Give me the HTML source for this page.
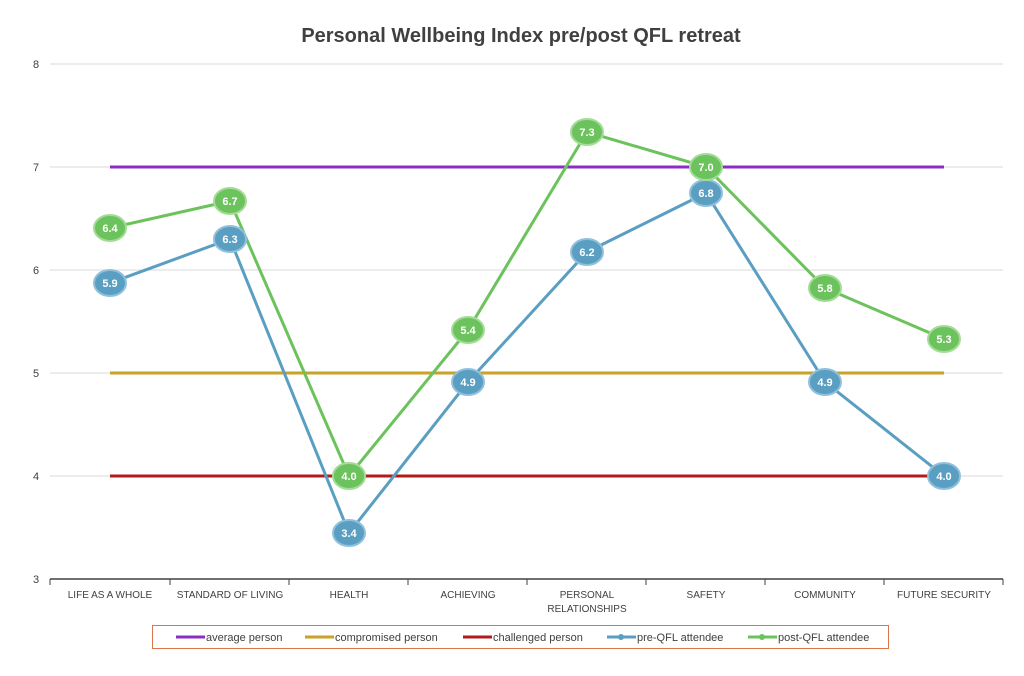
<!DOCTYPE html>
<html><head><meta charset="utf-8"><style>
body{margin:0;background:#fff;}
svg{display:block;font-family:"Liberation Sans",sans-serif;}
</style></head><body>
<svg width="1024" height="676" viewBox="0 0 1024 676">
<rect width="1024" height="676" fill="#fff"/>
<text x="521" y="42" text-anchor="middle" font-size="20" font-weight="bold" fill="#404040">Personal Wellbeing Index pre/post QFL retreat</text>
<g stroke="#d9d9d9" stroke-width="1">
<line x1="50" y1="64" x2="1003" y2="64"/><line x1="50" y1="167" x2="1003" y2="167"/>
<line x1="50" y1="270" x2="1003" y2="270"/><line x1="50" y1="373" x2="1003" y2="373"/>
<line x1="50" y1="476" x2="1003" y2="476"/>
</g>
<line x1="50" y1="579" x2="1003" y2="579" stroke="#404040" stroke-width="1.5"/>
<g stroke="#404040" stroke-width="1">
<line x1="50" y1="579" x2="50" y2="585"/><line x1="170" y1="579" x2="170" y2="585"/><line x1="289" y1="579" x2="289" y2="585"/><line x1="408" y1="579" x2="408" y2="585"/><line x1="527" y1="579" x2="527" y2="585"/><line x1="646" y1="579" x2="646" y2="585"/><line x1="765" y1="579" x2="765" y2="585"/><line x1="884" y1="579" x2="884" y2="585"/><line x1="1003" y1="579" x2="1003" y2="585"/>
</g>
<g font-size="11" fill="#404040" text-anchor="middle">
<text x="36" y="68">8</text><text x="36" y="171">7</text><text x="36" y="274">6</text><text x="36" y="377">5</text><text x="36" y="480">4</text><text x="36" y="583">3</text>
</g>
<g font-size="10" fill="#404040" text-anchor="middle">
<text x="110" y="598">LIFE AS A WHOLE</text><text x="230" y="598">STANDARD OF LIVING</text><text x="349" y="598">HEALTH</text><text x="468" y="598">ACHIEVING</text><text x="587" y="598">PERSONAL</text><text x="587" y="612">RELATIONSHIPS</text><text x="706" y="598">SAFETY</text><text x="825" y="598">COMMUNITY</text><text x="944" y="598">FUTURE SECURITY</text>
</g>
<line x1="110" y1="167" x2="944" y2="167" stroke="#8b2cc4" stroke-width="3"/>
<line x1="110" y1="373" x2="944" y2="373" stroke="#c9a227" stroke-width="3"/>
<line x1="110" y1="476" x2="944" y2="476" stroke="#b01c1c" stroke-width="3"/>
<polyline fill="none" stroke="#5a9ec2" stroke-width="3" points="110,283 230,239 349,533 468,382 587,252 706,193 825,382 944,476"/>
<polyline fill="none" stroke="#6cc25c" stroke-width="3" points="110,228 230,201 349,476 468,330 587,132 706,167 825,288 944,339"/>
<g fill="#5a9ec2" stroke="#8fc0dc" stroke-width="2">
<ellipse cx="110" cy="283" rx="16" ry="13"/><ellipse cx="230" cy="239" rx="16" ry="13"/><ellipse cx="349" cy="533" rx="16" ry="13"/><ellipse cx="468" cy="382" rx="16" ry="13"/><ellipse cx="587" cy="252" rx="16" ry="13"/><ellipse cx="706" cy="193" rx="16" ry="13"/><ellipse cx="825" cy="382" rx="16" ry="13"/><ellipse cx="944" cy="476" rx="16" ry="13"/>
</g>
<g fill="#6cc25c" stroke="#a3dc96" stroke-width="2">
<ellipse cx="110" cy="228" rx="16" ry="13"/><ellipse cx="230" cy="201" rx="16" ry="13"/><ellipse cx="349" cy="476" rx="16" ry="13"/><ellipse cx="468" cy="330" rx="16" ry="13"/><ellipse cx="587" cy="132" rx="16" ry="13"/><ellipse cx="706" cy="167" rx="16" ry="13"/><ellipse cx="825" cy="288" rx="16" ry="13"/><ellipse cx="944" cy="339" rx="16" ry="13"/>
</g>
<g font-size="11" font-weight="bold" fill="#fff" text-anchor="middle">
<text x="110" y="287">5.9</text><text x="230" y="243">6.3</text><text x="349" y="537">3.4</text><text x="468" y="386">4.9</text><text x="587" y="256">6.2</text><text x="706" y="197">6.8</text><text x="825" y="386">4.9</text><text x="944" y="480">4.0</text>
<text x="110" y="232">6.4</text><text x="230" y="205">6.7</text><text x="349" y="480">4.0</text><text x="468" y="334">5.4</text><text x="587" y="136">7.3</text><text x="706" y="171">7.0</text><text x="825" y="292">5.8</text><text x="944" y="343">5.3</text>
</g>
<rect x="152.5" y="625.5" width="736" height="23" fill="#fff" stroke="#d9764a" stroke-width="1"/>
<g stroke-width="3">
<line x1="176" y1="637" x2="205" y2="637" stroke="#8b2cc4"/>
<line x1="305" y1="637" x2="334" y2="637" stroke="#c9a227"/>
<line x1="463" y1="637" x2="492" y2="637" stroke="#b01c1c"/>
<line x1="607" y1="637" x2="636" y2="637" stroke="#5a9ec2"/>
<line x1="748" y1="637" x2="777" y2="637" stroke="#6cc25c"/>
</g>
<circle cx="621" cy="637" r="3" fill="#5a9ec2"/><circle cx="762" cy="637" r="3" fill="#6cc25c"/>
<g font-size="11" fill="#404040">
<text x="206" y="641">average person</text>
<text x="335" y="641">compromised person</text>
<text x="493" y="641">challenged person</text>
<text x="637" y="641">pre-QFL attendee</text>
<text x="778" y="641">post-QFL attendee</text>
</g>
</svg>
</body></html>
